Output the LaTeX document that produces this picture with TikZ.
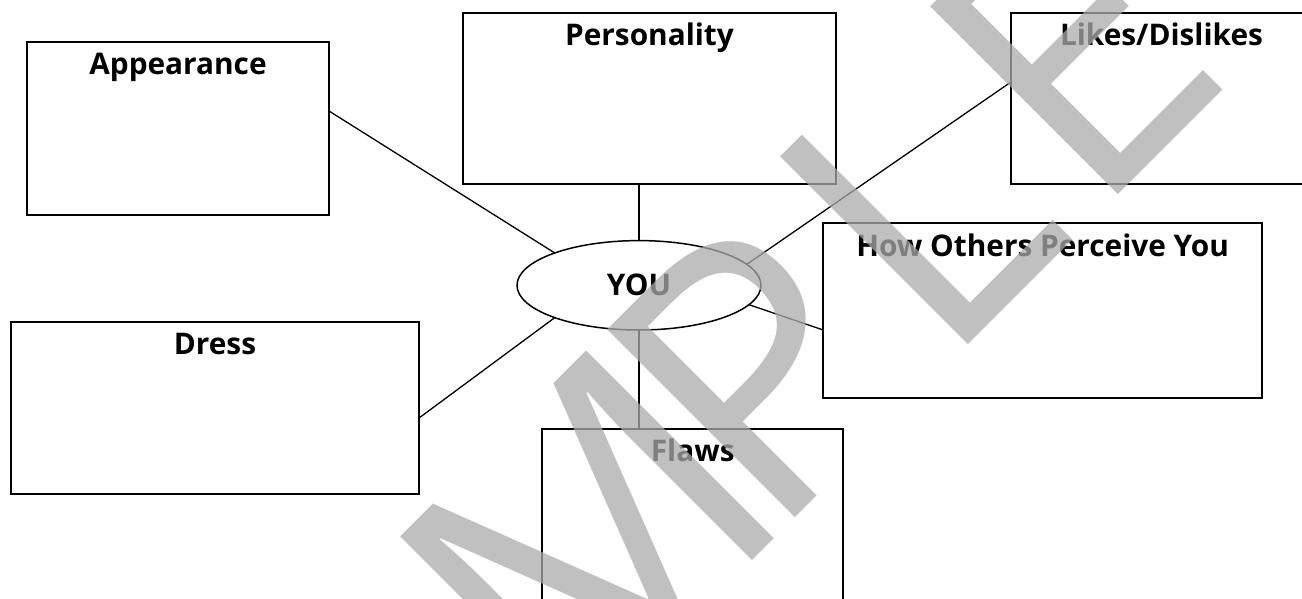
\documentclass[tikz,border=0pt]{standalone}
\usepackage{fontspec}
\setmainfont{Open Sans}
\usepackage{tikz}
\usetikzlibrary{shapes.geometric,calc}
\definecolor{LineColor}{HTML}{000000}
\definecolor{WaterGray}{gray}{0.67}
\newcommand\nodeapp{Appearance}
\newcommand\nodepers{Personality}
\newcommand\nodelikes{Likes/Dislikes}
\newcommand\nodehopy{How Others Perceive You}
\newcommand\nodedress{Dress}
\newcommand\nodeflaws{Flaws}
\newcommand\nodeyou{YOU}
\tikzstyle{mybox} = [rectangle, draw=LineColor, line width=1pt, inner sep=0pt, outer sep=0pt]
\tikzstyle{lbl} = [anchor=base, inner sep=0pt, text=LineColor, font=\bfseries\fontsize{14.9}{18}\selectfont]
\tikzstyle{youstyle} = [ellipse, draw=LineColor, line width=0.75pt, inner sep=0pt, outer sep=0pt, minimum width=122pt, minimum height=44.7pt, font=\bfseries\fontsize{14.9}{18}\selectfont]
\tikzstyle{link} = [draw=LineColor, line width=0.65pt]
\tikzstyle{wmk} = [anchor=base west, inner sep=0pt, rotate=45, text=WaterGray, text opacity=0.745, font=\fontsize{186}{186}\selectfont]
\tikzset{every picture/.style={x=0.5pt, y=-0.5pt}}

\begin{document}
\begin{tikzpicture}
\useasboundingbox (0,0) rectangle (1302,599);
\node[mybox, minimum width=151pt, minimum height=86.5pt] (app) at (178, 128.5) {};
\node[mybox, minimum width=186.5pt, minimum height=85.7pt] (pers) at (649.5, 98.3) {};
\node[mybox, minimum width=150.5pt, minimum height=85.7pt] (likes) at (1161.5, 98.3) {};
\node[mybox, minimum width=219.4pt, minimum height=87.2pt] (hopy) at (1042.6, 310.5) {};
\node[mybox, minimum width=204.3pt, minimum height=86pt] (dress) at (215, 408) {};
\node[mybox, minimum width=150.7pt, minimum height=90.5pt] (flaws) at (692.7, 519.5) {};
\node[youstyle] (you) at (639, 285.3) {\nodeyou};
\node[lbl] (applbl) at ([yshift=-16.4pt]app.north) {\nodeapp};
\node[lbl] (perslbl) at ([yshift=-16.6pt]pers.north) {\nodepers};
\node[lbl] (likeslbl) at ([yshift=-16.6pt]likes.north) {\nodelikes};
\node[lbl] (hopylbl) at ([yshift=-16.7pt]hopy.north) {\nodehopy};
\node[lbl] (dresslbl) at ([yshift=-16pt]dress.north) {\nodedress};
\node[lbl] (flawslbl) at ([yshift=-16.4pt]flaws.north) {\nodeflaws};
\draw[link] (you.159.9) -- ([yshift=8.75pt]app.east);
\draw[link] (you.north) -- (you.north |- pers.south);
\draw[link] (you.11.5) -- ([yshift=8.15pt]likes.west);
\draw[link] (you.-10.6) -- ([yshift=-9.75pt]hopy.west);
\draw[link] (you.201.1) -- ([yshift=-4.9pt]dress.east);
\draw[link] (you.south) -- (you.south |- flaws.north);
\coordinate (wmo) at (656.5, 656.5);
\node[wmk] (wmS) at ($(wmo)+(-45:-573)$) {S};
\node[wmk] (wmA) at ($(wmo)+(-45:-370)$) {A};
\node[wmk] (wmM) at ($(wmo)+(-45:-134)$) {M};
\node[wmk] (wmP) at ($(wmo)+(-45:159)$) {P};
\node[wmk] (wmL) at ($(wmo)+(-45:404)$) {L};
\node[wmk] (wmE) at ($(wmo)+(-45:616)$) {E};
\end{tikzpicture}
\end{document}
